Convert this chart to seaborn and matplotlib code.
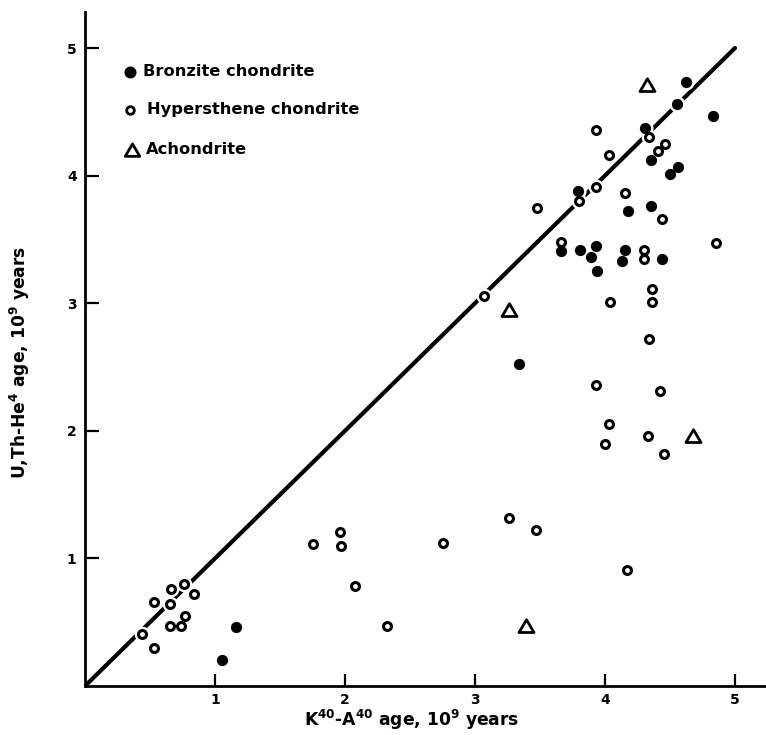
import matplotlib
matplotlib.use("Agg")
import matplotlib.pyplot as plt
from matplotlib.path import Path
import seaborn as sns
import pandas as pd

# ---- data ----
bronzite_x = [4.62, 4.55, 4.83, 4.31, 4.35, 4.56, 4.50, 3.79, 4.18, 4.35, 3.66,
              3.81, 3.93, 3.89, 3.94, 4.15, 4.13, 4.44, 3.34, 1.16, 1.05]
bronzite_y = [4.73, 4.56, 4.47, 4.37, 4.12, 4.07, 4.01, 3.88, 3.72, 3.76, 3.41,
              3.42, 3.45, 3.36, 3.25, 3.42, 3.33, 3.35, 2.52, 0.46, 0.20]

hyper_x = [3.93, 4.34, 4.46, 4.41, 4.03, 3.93, 3.80, 4.15, 4.44, 3.48, 3.66,
           4.30, 4.30, 4.85, 3.07, 4.36, 4.36, 4.04, 4.34, 3.93, 4.42, 4.03,
           4.00, 4.33, 4.45, 3.26, 3.47, 2.75, 4.17, 2.32, 1.75, 1.96, 1.97,
           2.08, 0.76, 0.66, 0.84, 0.53, 0.65, 0.77, 0.65, 0.74, 0.44, 0.53]
hyper_y = [4.36, 4.30, 4.25, 4.19, 4.16, 3.91, 3.80, 3.86, 3.66, 3.75, 3.48,
           3.42, 3.35, 3.47, 3.06, 3.11, 3.01, 3.01, 2.72, 2.36, 2.31, 2.05,
           1.90, 1.96, 1.82, 1.32, 1.22, 1.12, 0.91, 0.47, 1.11, 1.21, 1.10,
           0.78, 0.80, 0.76, 0.72, 0.66, 0.64, 0.55, 0.47, 0.47, 0.41, 0.30]

achon_x = [4.32, 3.26, 4.68, 3.39]
achon_y = [4.71, 2.95, 1.96, 0.47]

diag_x = [0, 5]
diag_y = [0, 5]

legend_labels = ["Bronzite chondrite", "Hypersthene chondrite", "Achondrite"]
x_ticks = [1, 2, 3, 4, 5]
y_ticks = [1, 2, 3, 4, 5]
x_label = r"K$^{40}$-A$^{40}$ age, 10$^{9}$ years"
y_label = r"U,Th-He$^{4}$ age, 10$^{9}$ years"

# ---- style ----
sns.set_style("ticks")
plt.rcParams["font.family"] = ["DejaVu Sans"]
plt.rcParams["font.weight"] = "bold"
plt.rcParams["mathtext.fontset"] = "dejavusans"
plt.rcParams["mathtext.default"] = "bf"
for key in ("text.color", "axes.labelcolor", "xtick.color", "ytick.color", "axes.edgecolor"):
    plt.rcParams[key] = "black"

W, H = 766, 735
fig = plt.figure(figsize=(W / 100, H / 100), dpi=100)
ax = fig.add_axes([85 / W, 1 - 686 / H, 681 / W, 674 / H])

tri = Path([(-1.0, -0.8), (1.0, -0.8), (0.0, 0.9), (-1.0, -0.8)],
           [Path.MOVETO, Path.LINETO, Path.LINETO, Path.CLOSEPOLY])

# diagonal
sns.lineplot(x=diag_x, y=diag_y, color="black", linewidth=3.0, ax=ax, zorder=2)

S_FILL, S_OPEN, S_TRI = 50, 33, 117

# white halos (cut the line around markers)
sns.scatterplot(x=bronzite_x, y=bronzite_y, marker="o", s=S_FILL, color="white",
                edgecolor="white", linewidth=4.5, ax=ax, zorder=3, legend=False)
sns.scatterplot(x=hyper_x, y=hyper_y, marker="o", s=S_OPEN, color="white",
                edgecolor="white", linewidth=5.5, ax=ax, zorder=3, legend=False)
sns.scatterplot(x=achon_x, y=achon_y, marker=tri, s=S_TRI, color="white",
                edgecolor="white", linewidth=5.0, ax=ax, zorder=3, legend=False)

# markers
sns.scatterplot(x=bronzite_x, y=bronzite_y, marker="o", s=S_FILL, color="black",
                edgecolor="black", linewidth=1.0, ax=ax, zorder=4, legend=False)
sns.scatterplot(x=hyper_x, y=hyper_y, marker="o", s=S_OPEN, color="white",
                edgecolor="black", linewidth=2.2, ax=ax, zorder=5, legend=False)
sns.scatterplot(x=achon_x, y=achon_y, marker=tri, s=S_TRI, color="white",
                edgecolor="black", linewidth=2.0, ax=ax, zorder=5, legend=False)

# axes
ax.set_xlim(0, 681 / 130)
ax.set_ylim(0, 674 / 127.6)
sns.despine(ax=ax)
for side in ("left", "bottom"):
    ax.spines[side].set_linewidth(2.0)
    ax.spines[side].set_color("black")
ax.set_xticks(x_ticks)
ax.set_yticks(y_ticks)
ax.set_xticklabels([str(t) for t in x_ticks], fontsize=10, fontweight="bold")
ax.set_yticklabels([str(t) for t in y_ticks], fontsize=10, fontweight="bold")
ax.tick_params(axis="x", direction="in", length=8.5, width=1.6, pad=5, colors="black")
ax.tick_params(axis="y", direction="in", length=10, width=1.6, pad=6, colors="black")

ax.set_xlabel(x_label, fontsize=12.3, fontweight="bold", color="black")
ax.set_ylabel(y_label, fontsize=12.3, fontweight="bold", color="black")
ax.xaxis.set_label_coords(0.480, -0.033)
ax.yaxis.set_label_coords(-0.078, 0.48)

# legend (manual, frameless)
rows = [0.9114, 0.8546, 0.7953]
ax.scatter([0.066], [rows[0]], s=58, marker="o", color="black", transform=ax.transAxes, zorder=6)
ax.scatter([0.066], [rows[1]], s=30, marker="o", facecolor="white", edgecolor="black",
           linewidth=2.0, transform=ax.transAxes, zorder=6)
ax.scatter([0.069], [rows[2]], s=110, marker=tri, facecolor="white", edgecolor="black",
           linewidth=2.0, transform=ax.transAxes, zorder=6)
text_x = [0.085, 0.091, 0.090]
for tx, ty, lab in zip(text_x, rows, legend_labels):
    ax.text(tx, ty, lab, transform=ax.transAxes, fontsize=11.7, fontweight="bold",
            va="center", ha="left", color="black")

fig.savefig("out.png", dpi=100)
